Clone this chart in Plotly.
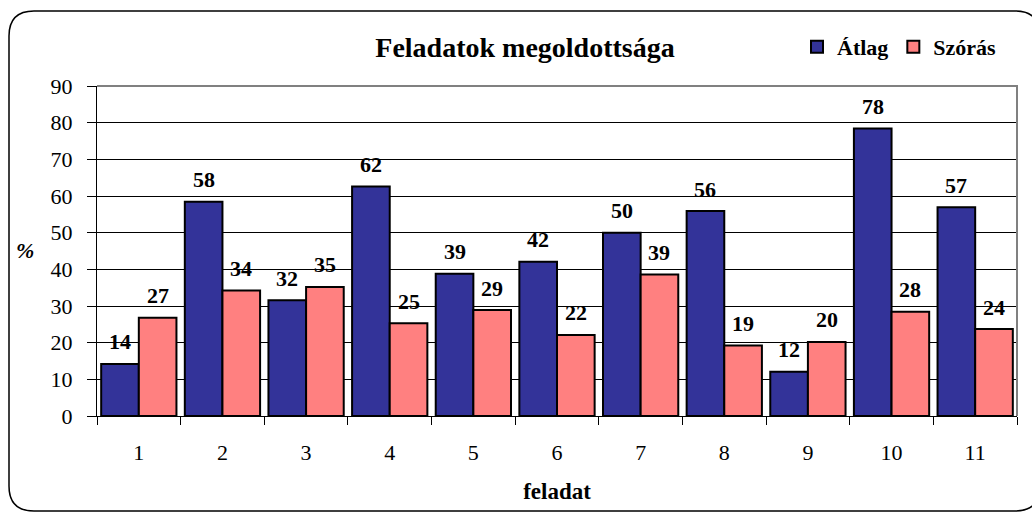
import plotly.graph_objects as go

categories = ["1", "2", "3", "4", "5", "6", "7", "8", "9", "10", "11"]
atlag = [14.2, 58.4, 31.6, 62.6, 38.8, 42.1, 50.0, 55.9, 12.1, 78.4, 56.9]
szoras = [26.8, 34.2, 35.2, 25.3, 28.9, 22.1, 38.6, 19.2, 20.2, 28.4, 23.7]
atlag_labels = ["14", "58", "32", "62", "39", "42", "50", "56", "12", "78", "57"]
szoras_labels = ["27", "34", "35", "25", "29", "22", "39", "19", "20", "28", "24"]
y_ticks = [0, 10, 20, 30, 40, 50, 60, 70, 80, 90]

FONT = "Liberation Serif"
W, H = 1032, 513
ML, MR, MT, MB = 97, 15, 86, 97
PW = W - ML - MR
BARGAP = 0.1
bar_w = PW / len(categories) * (1 - BARGAP) / 2

fig = go.Figure()
fig.add_trace(go.Bar(
    name="Átlag", x=categories, y=atlag,
    marker=dict(color="#333399", line=dict(color="black", width=2)),
))
fig.add_trace(go.Bar(
    name="Szórás", x=categories, y=szoras,
    marker=dict(color="#FF8080", line=dict(color="black", width=2)),
))

annotations = []
for values, labels, side in ((atlag, atlag_labels, -1), (szoras, szoras_labels, 1)):
    for i, (v, t) in enumerate(zip(values, labels)):
        annotations.append(dict(
            x=i, y=v, xref="x", yref="y", text=f"<b>{t}</b>", showarrow=False,
            xshift=side * bar_w / 2, yshift=22, xanchor="center", yanchor="middle",
            font=dict(family=FONT, size=22, color="black"),
        ))

annotations.append(dict(
    text="<b><i>%</i></b>", xref="paper", yref="paper",
    x=-(ML - 25) / PW, y=(H - MB - 250) / (H - MT - MB),
    xanchor="center", yanchor="middle", showarrow=False,
    font=dict(family=FONT, size=22, color="black"),
))

# rounded outer border (pixel coordinates relative to plot-area bottom-left)
L, R, T, B, r = 9 - ML, 1040 - ML, (H - MB) - 11, (H - MB) - 511, 25
path = (f"M {L+r},{T} L {R-r},{T} Q {R},{T} {R},{T-r} L {R},{B+r} Q {R},{B} {R-r},{B} "
        f"L {L+r},{B} Q {L},{B} {L},{B+r} L {L},{T-r} Q {L},{T} {L+r},{T} Z")

fig.update_layout(
    width=W, height=H,
    margin=dict(l=ML, r=MR, t=MT, b=MB),
    paper_bgcolor="white", plot_bgcolor="white",
    barmode="group", bargap=BARGAP, bargroupgap=0,
    font=dict(family=FONT, color="black"),
    title=dict(text="<b>Feladatok megoldottsága</b>", x=(525 - ML) / PW,
               xref="paper", xanchor="center", y=1 - 47 / H, yanchor="middle",
               font=dict(family=FONT, size=28, color="black")),
    legend=dict(orientation="h", x=(797 - ML) / PW, xanchor="left",
                y=(H - MB - 47) / (H - MT - MB), yanchor="middle",
                font=dict(family=FONT, size=22, color="black", weight="bold"),
                bgcolor="rgba(0,0,0,0)", itemwidth=30, traceorder="normal"),
    xaxis=dict(
        type="category", tickson="boundaries", ticks="outside", ticklen=8,
        tickcolor="black", showline=True, linecolor="black", linewidth=1,
        showgrid=False, ticklabelstandoff=17, range=[-0.5, len(categories) - 0.5],
        tickfont=dict(family=FONT, size=22, color="black"),
        title=dict(text="<b>feladat</b>", standoff=18,
                   font=dict(family=FONT, size=23, color="black")),
    ),
    yaxis=dict(
        range=[0, 90], tickvals=y_ticks, ticks="outside", ticklen=9,
        tickcolor="black", showline=True, linecolor="black", linewidth=1,
        showgrid=True, gridcolor="black", gridwidth=1, zeroline=False,
        ticklabelstandoff=10,
        tickfont=dict(family=FONT, size=22, color="black"),
    ),
    shapes=[
        dict(type="path", xref="paper", yref="paper", xsizemode="pixel", ysizemode="pixel",
             xanchor=0, yanchor=0, path=path, line=dict(color="black", width=1.5),
             fillcolor="rgba(0,0,0,0)", layer="below"),
        dict(type="path", xref="paper", yref="paper",
             path="M 0,1 L 1,1 L 1,0", line=dict(color="#808080", width=2),
             layer="above"),
    ],
    annotations=annotations,
)

fig.write_html("out.html", config={"displayModeBar": False},
               post_script="document.body.style.margin='0';")
